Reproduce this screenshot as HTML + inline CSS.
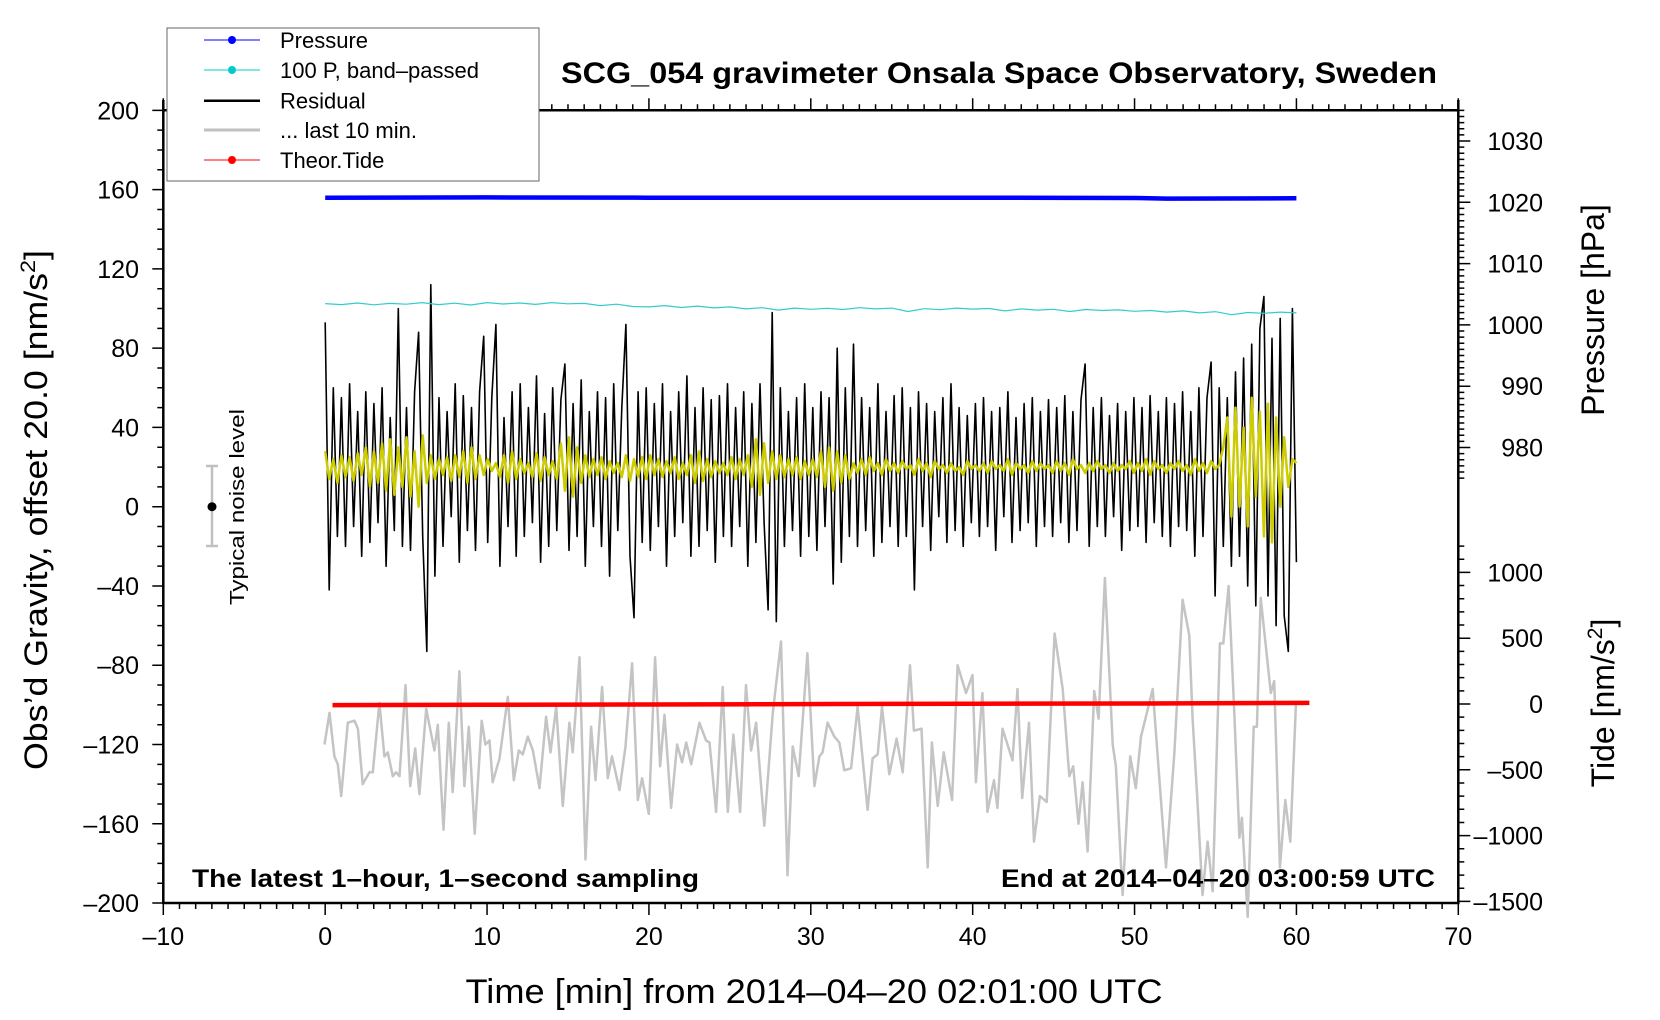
<!DOCTYPE html>
<html><head><meta charset="utf-8"><style>
html,body{margin:0;padding:0;background:#fff;}
svg{display:block;font-family:"Liberation Sans",sans-serif;}
</style></head><body>
<svg id="chart" width="1660" height="1020" viewBox="0 0 1660 1020" xmlns="http://www.w3.org/2000/svg">
<g id="axes"></g>
<g id="series"></g>
<text x="999" y="83" text-anchor="middle" font-size="30" font-weight="bold" textLength="876" lengthAdjust="spacingAndGlyphs">SCG_054 gravimeter Onsala Space Observatory, Sweden</text>
<text x="192" y="887" font-size="25" font-weight="bold" textLength="507" lengthAdjust="spacingAndGlyphs">The latest 1–hour, 1–second sampling</text>
<text x="1435" y="887" text-anchor="end" font-size="25" font-weight="bold" textLength="434" lengthAdjust="spacingAndGlyphs">End at 2014–04–20 03:00:59 UTC</text>
<text x="814" y="1003" text-anchor="middle" font-size="34" textLength="697" lengthAdjust="spacingAndGlyphs">Time [min] from 2014–04–20 02:01:00 UTC</text>
<text transform="translate(47,510) rotate(-90)" text-anchor="middle" font-size="32" textLength="520" lengthAdjust="spacingAndGlyphs">Obs’d Gravity, offset 20.0 [nm/s<tspan font-size="21" dy="-12">2</tspan><tspan dy="12">]</tspan></text>
<text transform="translate(1604,310) rotate(-90)" text-anchor="middle" font-size="32">Pressure [hPa]</text>
<text transform="translate(1614,703) rotate(-90)" text-anchor="middle" font-size="32">Tide [nm/s<tspan font-size="21" dy="-12">2</tspan><tspan dy="12">]</tspan></text>
<g>
<line x1="212" y1="466" x2="212" y2="546" stroke="#c0c0c0" stroke-width="2.5"/>
<line x1="206" y1="466" x2="218" y2="466" stroke="#c0c0c0" stroke-width="2.5"/>
<line x1="206" y1="546" x2="218" y2="546" stroke="#c0c0c0" stroke-width="2.5"/>
<circle cx="212" cy="506.7" r="4.5" fill="#000"/>
<text transform="translate(244,507) rotate(-90)" text-anchor="middle" font-size="20" textLength="196" lengthAdjust="spacingAndGlyphs">Typical noise level</text>
</g>
<g>
<rect x="167" y="28" width="372" height="153" fill="#fff" stroke="#666" stroke-width="1"/>
<g><line x1="204" y1="40" x2="260" y2="40" stroke="#0000ff" stroke-width="1"/><circle cx="232" cy="40" r="4" fill="#0000ff"/><text x="280" y="48" font-size="22">Pressure</text></g>
<g><line x1="204" y1="70" x2="260" y2="70" stroke="#00cccc" stroke-width="1"/><circle cx="232" cy="70" r="4" fill="#00cccc"/><text x="280" y="78" font-size="22">100 P, band–passed</text></g>
<g><line x1="204" y1="100.7" x2="260" y2="100.7" stroke="#000" stroke-width="2.5"/><text x="280" y="108.7" font-size="22">Residual</text></g>
<g><line x1="204" y1="130" x2="260" y2="130" stroke="#c0c0c0" stroke-width="3"/><text x="280" y="138" font-size="22">... last 10 min.</text></g>
<g><line x1="204" y1="160" x2="260" y2="160" stroke="#ff0000" stroke-width="1"/><circle cx="232" cy="160" r="4" fill="#ff0000"/><text x="280" y="168" font-size="22">Theor.Tide</text></g>
</g>
</svg>
<script>
const xTicks=[-10,0,10,20,30,40,50,60,70];
const yTicks=[-200,-160,-120,-80,-40,0,40,80,120,160,200];
const pTicks=[980,990,1000,1010,1020,1030];
const tTicks=[-1500,-1000,-500,0,500,1000];
const greyT=[-0.04,0.27,0.57,0.78,0.99,1.40,1.81,2.02,2.32,2.74,2.94,3.35,3.66,3.87,4.18,4.38,4.59,4.96,5.25,5.56,5.82,6.24,6.75,6.96,7.31,7.64,7.88,8.29,8.60,8.87,9.24,9.67,9.90,10.15,10.35,10.77,11.28,11.65,11.96,12.21,12.52,12.83,13.24,13.65,13.92,14.27,14.68,15.09,15.29,15.71,16.08,16.43,16.70,17.11,17.46,17.72,18.18,18.55,18.96,19.31,19.58,19.99,20.38,20.69,20.96,21.37,21.74,22.05,22.30,22.61,23.12,23.53,23.74,24.15,24.56,24.87,25.22,25.63,26.00,26.31,26.62,27.13,27.65,28.16,28.56,28.88,29.25,29.79,
30.22,30.53,30.73,31.04,31.45,31.76,32.07,32.49,32.89,33.51,33.82,34.13,34.40,34.85,35.30,35.68,36.13,36.37,36.84,37.22,37.48,37.84,38.21,38.73,39.07,39.59,39.99,40.20,40.60,40.91,41.32,41.53,41.84,42.46,42.77,43.06,43.48,43.79,44.15,44.57,45.06,45.56,45.97,46.21,46.54,46.79,47.10,47.51,47.78,48.17,48.65,48.85,49.26,49.73,50.08,50.40,51.12,51.53,51.94,52.46,52.97,53.38,53.58,53.89,54.20,54.51,54.83,55.27,55.48,55.81,56.16,56.48,56.63,56.99,57.36,57.56,57.79,58.42,58.63,58.98,59.31,59.62,59.97];
const greyV=[-120,-104,-126,-130,-146,-109,-108,-112,-140,-134,-134,-99,-126,-124,-136,-134,-136,-90,-141,-122,-145,-102,-123,-110,-163,-109,-144,-83,-141,-111,-165,-108,-120,-118,-139,-127,-96,-138,-123,-125,-116,-123,-142,-106,-124,-101,-151,-109,-124,-76,-178,-111,-138,-91,-137,-126,-143,-121,-79,-148,-137,-155,-76,-131,-105,-152,-120,-129,-119,-130,-109,-118,-119,-154,-91,-154,-115,-154,-90,-123,-109,-161,-104,-68,-186,-121,-136,-74,
-141,-126,-124,-109,-116,-119,-133,-132,-101,-153,-127,-125,-101,-135,-117,-134,-80,-113,-112,-182,-119,-151,-124,-148,-80,-94,-85,-139,-94,-154,-138,-152,-112,-128,-92,-147,-109,-169,-146,-149,-64,-92,-136,-131,-160,-139,-174,-93,-107,-36,-120,-131,-196,-126,-142,-116,-92,-137,-182,-124,-47,-65,-106,-149,-196,-169,-194,-69,-69,-40,-104,-167,-157,-207,-111,-111,-46,-94,-88,-182,-148,-169,-100];
const resV=[93,-42,60,-15,55,-20,62,-10,48,-25,58,-18,52,-8,60,-30,45,-12,100,-20,
50,-22,58,88,-15,-73,112,-35,55,-20,48,-5,62,-28,56,-12,50,-22,58,86,
-18,55,92,-30,45,-10,58,-25,62,-15,50,-8,66,-28,47,-20,60,-12,54,72,
-22,52,-15,64,-30,48,-10,58,-20,55,-35,62,-12,50,92,-25,-56,58,-18,60,
-22,52,-10,62,-30,48,-15,58,-8,66,-25,50,-20,60,-12,54,-28,56,-15,62,
-20,50,-10,58,-30,52,-18,62,-8,-52,98,-58,60,-20,48,-12,55,-25,62,-15,
50,-22,58,-10,55,-39,80,-28,60,-15,82,-20,55,-12,50,-25,62,-18,48,-10,
56,-20,60,-15,50,-42,58,-10,52,-22,48,-5,55,-18,62,-12,50,-20,46,-8,
52,-15,55,-10,48,-22,50,-5,58,-18,45,-12,52,-8,55,-20,48,-10,54,-15,
50,-8,56,-18,48,-12,54,72,-20,50,-10,55,-15,46,-5,52,-22,48,-12,55,
-10,50,-18,56,-8,48,-15,55,-20,52,-10,58,-12,48,-25,60,-15,55,73,-45,
60,-20,55,-30,68,-25,75,-40,82,-50,90,106,-45,85,-60,95,-55,-73,100,-28];
const bandV=[28,14,24,12,26,15,25,13,27,16,30,10,28,12,32,8,34,6,30,10,
35,5,28,0,36,12,26,14,24,16,25,13,26,15,28,12,30,14,26,16,
24,18,22,15,26,12,28,14,24,17,22,15,27,13,25,16,23,14,32,8,
35,5,30,12,26,15,24,16,25,14,23,17,22,15,26,13,24,15,25,14,
26,16,24,15,23,17,25,14,22,16,26,12,28,13,24,15,23,17,22,16,
25,14,24,16,26,10,34,6,32,12,28,14,26,15,24,16,25,14,23,16,
24,15,28,10,30,8,28,12,26,14,22,17,24,16,25,18,22,16,24,18,
22,17,23,19,21,16,24,18,22,15,23,19,21,17,22,18,20,16,23,19,
21,18,22,17,23,19,21,18,24,16,22,19,21,17,23,18,22,19,21,17,
23,18,22,16,24,19,21,17,22,18,23,19,21,17,22,18,21,19,23,17,
22,18,24,16,23,19,21,17,22,19,23,18,21,16,24,18,22,17,23,19,
21,30,45,-5,50,0,40,-10,55,5,48,-15,52,-18,45,0,35,10,24,22];
const cyanV=[102.5,102,102.8,101.9,102.6,102.2,103,102,102.7,101.8,103,102.3,102.8,102.1,103,102.4,102.6,101.5,102.2,101,100.8,101.5,100.5,101.2,100.3,100.8,99.8,100.4,99.2,100.2,99.6,100.1,99.5,100.4,99.8,100.2,98.5,99.9,99.4,100.2,99.7,100,98.8,99.8,99.2,99.6,98.5,99.5,99,99.3,98.6,99,98.2,98.8,97.8,98.4,96.9,98,97.6,98.2,97.8];
const pressT=[0,10,20,30,40,50,52,60];
const pressV=[1020.75,1020.8,1020.75,1020.75,1020.75,1020.7,1020.6,1020.65];
const tideT=[0.45,10,20,31.5,40,50,60.8];
const tideV=[-8,-6,-4,0,2,4,8];

const NS='http://www.w3.org/2000/svg';
const L=163.3,R=1458.3,T=110.3,B=903;
function xs(m){return L+(m+10)*(R-L)/80;}
function ys(g){return 506.7-g*(B-T)/400;}
function yp(p){return 202.3+(1020-p)*6.13;}
function yt(t){return 704-t*0.1316;}
function mk(tag,attrs,parent){const e=document.createElementNS(NS,tag);for(const k in attrs)e.setAttribute(k,attrs[k]);parent.appendChild(e);return e;}
const ax=document.getElementById('axes');
const se=document.getElementById('series');

const fr=mk('path',{d:`M${L},100 L${L},${B} L${R},${B} L${R},100 M${L},${T} L${R},${T}`,fill:'none',stroke:'#000','stroke-width':2.5},ax);


let d='';
for(let m=-10;m<=70;m++){const x=xs(m);const maj=(m%10===0);d+=`M${x},${B} L${x},${B+(maj?12:6)} M${x},${T} L${x},${T-(maj?12:6)} `;}
for(let g=-200;g<=200;g+=10){const y=ys(g);d+=`M${L},${y} L${L-(g%40===0?11:6)},${y} `;}
for(let p=975;p<=1035;p++){const y=yp(p);d+=`M${R},${y} L${R+(p%10===0?12:6)},${y} `;}
for(let t=-1500;t<=1200;t+=100){const y=yt(t);d+=`M${R},${y} L${R+(t%500===0?12:6)},${y} `;}
const tk=mk('path',{d:d,stroke:'#000','stroke-width':1.5,fill:'none'},ax);



xTicks.forEach(v=>{const t=mk('text',{x:xs(v),y:945,'text-anchor':'middle','font-size':25},ax);t.textContent=String(v).replace('-','–');

});
yTicks.forEach(v=>{const t=mk('text',{x:139,y:ys(v)+9,'text-anchor':'end','font-size':25},ax);t.textContent=String(v).replace('-','–');

});
pTicks.forEach(v=>{const t=mk('text',{x:1543,y:yp(v)+9,'text-anchor':'end','font-size':25},ax);t.textContent=String(v);

});
tTicks.forEach(v=>{const t=mk('text',{x:1543,y:yt(v)+9,'text-anchor':'end','font-size':25},ax);t.textContent=String(v).replace('-','–');

});

function line(pts,stroke,w,name){
  const p=mk('path',{d:'M'+pts.map(q=>q[0].toFixed(1)+','+q[1].toFixed(1)).join(' L'),fill:'none',stroke:stroke,'stroke-width':w,'stroke-linejoin':'round'},se);
  
  
}
line(greyT.map((t,i)=>[xs(t),ys(greyV[i])]),'#c4c4c4',2.5,'last-10-min-line');
line(resV.map((v,i)=>[xs(i*60/(resV.length-1)),ys(v)]),'#000',1.6,'residual-line');
line(bandV.map((v,i)=>[xs(i*60/(bandV.length-1)),ys(v)]),'#cccc00',2.5,'band-passed-residual-line');
line(cyanV.map((v,i)=>[xs(i*60/(cyanV.length-1)),ys(v)]),'#33cccc',1.2,'band-passed-pressure-line');
line(pressT.map((t,i)=>[xs(t),yp(pressV[i])]),'#0000ff',4.5,'pressure-line');
line(tideT.map((t,i)=>[xs(t),yt(tideV[i])]),'#ff0000',4.5,'theor-tide-line');
</script>
</body></html>
